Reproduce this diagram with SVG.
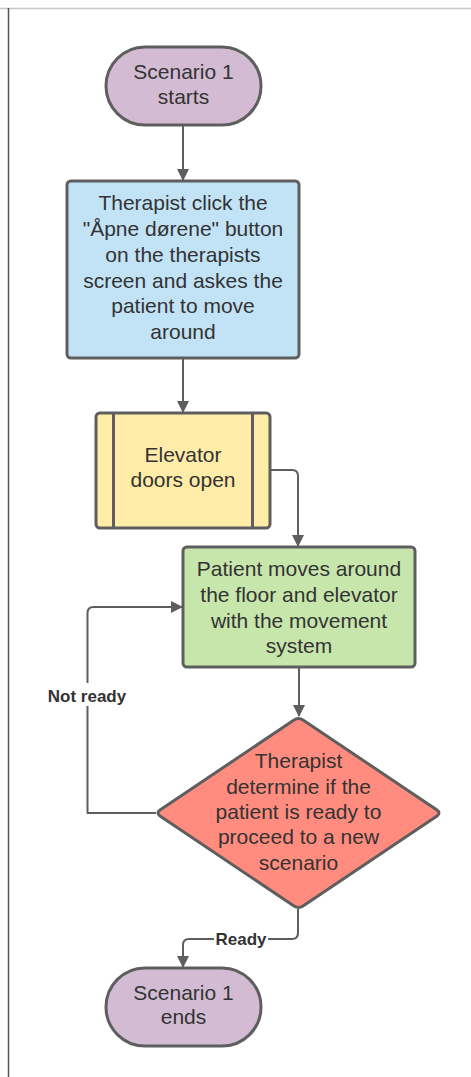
<svg xmlns="http://www.w3.org/2000/svg" width="471" height="1077" viewBox="0 0 471 1077">
<style>
.n{stroke:#5e5e5e;stroke-width:3}
.t{font-family:"Liberation Sans",Arial,sans-serif;font-size:21px;fill:#333;text-anchor:middle}
.c{fill:none;stroke:#5e5e5e;stroke-width:2;stroke-linejoin:round}
.l{font-family:"Liberation Sans",Arial,sans-serif;font-size:17px;font-weight:bold;fill:#333;text-anchor:middle}
</style>
<defs>
<marker id="a" markerWidth="12" markerHeight="14" refX="11" refY="6" orient="auto" markerUnits="userSpaceOnUse" viewBox="0 0 12 12">
<path d="M0,0 L12,6 L0,12 Z" fill="#5e5e5e"/>
</marker>
</defs>
<rect width="471" height="1077" fill="#fff"/>
<line x1="0" y1="8.5" x2="471" y2="8.5" stroke="#c8c8c8" stroke-width="1.5"/>
<line x1="8.5" y1="8" x2="8.5" y2="1077" stroke="#555" stroke-width="1.5"/>
<g id="connectors">
<path class="c" d="M183,125 V180" marker-end="url(#a)"/>
<path class="c" d="M183,358 V412" marker-end="url(#a)"/>
<path class="c" d="M270,470 H292 Q298,470 298,476 V546" marker-end="url(#a)"/>
<path class="c" d="M299,667 V716" marker-end="url(#a)"/>
<path class="c" d="M156,813 H87.5 V613 Q87.5,607 93.5,607 H182" marker-end="url(#a)"/>
<path class="c" d="M298,909 V933 Q298,939 292,939 H189 Q183,939 183,945 V967" marker-end="url(#a)"/>
<rect x="44" y="683" width="86" height="23" fill="#fff"/>
<text class="l" x="87" y="702">Not ready</text>
<rect x="214" y="929" width="54" height="20" fill="#fff"/>
<text class="l" x="241" y="945">Ready</text>
</g>
<g id="start">
<rect class="n" x="106" y="47" width="155" height="78" rx="39" fill="#d3bcd3"/>
<text class="t" x="183.5" y="79">Scenario 1</text>
<text class="t" x="183.5" y="104">starts</text>
</g>
<g id="therapist-click">
<rect class="n" x="67" y="181" width="232" height="177" rx="4" fill="#c2e3f6"/>
<text class="t" x="183" y="210">Therapist click the</text>
<text class="t" x="183" y="236">"Åpne dørene" button</text>
<text class="t" x="183" y="262">on the therapists</text>
<text class="t" x="183" y="288">screen and askes the</text>
<text class="t" x="183" y="313">patient to move</text>
<text class="t" x="183" y="339">around</text>
</g>
<g id="elevator-doors">
<rect class="n" x="96" y="413" width="174" height="115" rx="4" fill="#ffeca8"/>
<line class="n" x1="113.5" y1="413" x2="113.5" y2="528"/>
<line class="n" x1="252.5" y1="413" x2="252.5" y2="528"/>
<text class="t" x="183" y="462">Elevator</text>
<text class="t" x="183" y="487">doors open</text>
</g>
<g id="patient-moves">
<rect class="n" x="183" y="547" width="232" height="120" rx="4" fill="#c7e6ac"/>
<text class="t" x="299" y="576">Patient moves around</text>
<text class="t" x="299" y="602">the floor and elevator</text>
<text class="t" x="299" y="628">with the movement</text>
<text class="t" x="299" y="653">system</text>
</g>
<g id="decision">
<path class="n" d="M294,720 Q298.5,717 303,720 L437,810 Q441,813 437,816 L303,906 Q298.5,909 294,906 L160,816 Q156,813 160,810 Z" fill="#ff8c7e" stroke-linejoin="round"/>
<text class="t" x="298.5" y="768">Therapist</text>
<text class="t" x="298.5" y="794">determine if the</text>
<text class="t" x="298.5" y="819">patient is ready to</text>
<text class="t" x="298.5" y="844">proceed to a new</text>
<text class="t" x="298.5" y="870">scenario</text>
</g>
<g id="end">
<rect class="n" x="106" y="968" width="155" height="78" rx="39" fill="#d3bcd3"/>
<text class="t" x="183.5" y="1000">Scenario 1</text>
<text class="t" x="183.5" y="1024">ends</text>
</g>
</svg>
